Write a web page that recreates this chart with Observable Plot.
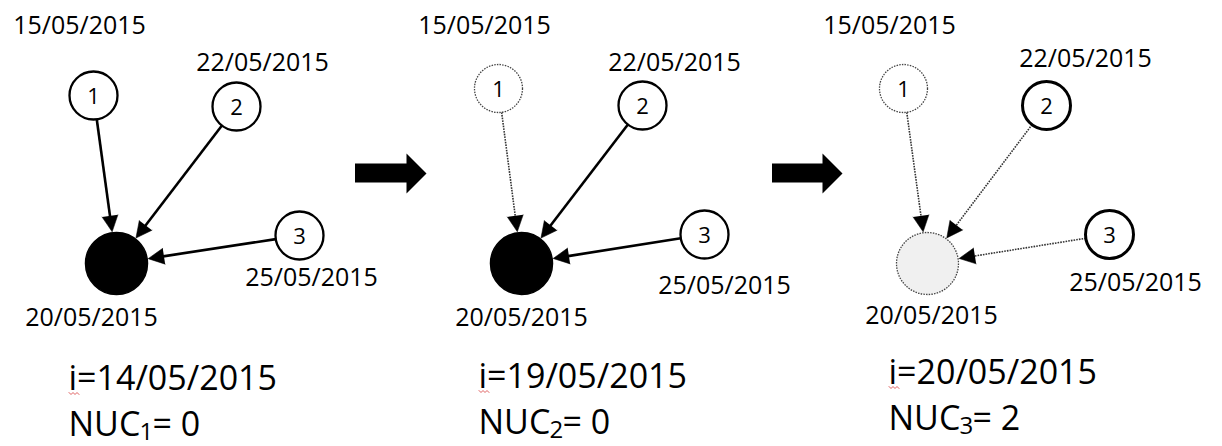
<!DOCTYPE html>
<html>
<head>
<meta charset="utf-8">
<script src="https://cdn.jsdelivr.net/npm/d3@7"></script>
<script src="https://cdn.jsdelivr.net/npm/@observablehq/plot@0.6"></script>
<style>
  html, body { margin: 0; padding: 0; background: #fff; }
  svg { display: block; }
</style>
</head>
<body>
<div id="chart"></div>
<script>
// ---- data ----
const panels = [0, 1, 2];
const sourceIds = ["1", "2", "3"];
const sourceDates = ["15/05/2015", "22/05/2015", "25/05/2015"];
const targetDate = "20/05/2015";
const iDates = ["14/05/2015", "19/05/2015", "20/05/2015"];
const nucIndex = ["1", "2", "3"];
const nucValues = [0, 0, 2];

// source node centres per panel
const srcX = [[93, 236, 299], [498, 642, 704], [903, 1046, 1109]];
const srcY = [[95, 106, 235], [88, 105, 234], [88, 105, 234]];
const srcState = [["on", "on", "on"], ["off", "on", "on"], ["off", "on", "on"]];
// target node per panel
const tgtX = [116, 521, 927];
const tgtY = [263, 263, 263];
const tgtState = ["on", "on", "off"];
// edge state per panel
const edgeState = [["on", "on", "on"], ["off", "on", "on"], ["off", "off", "off"]];

// label anchor points
const dateLabelX = [[79, 262, 311], [484, 674, 724], [889, 1085, 1135]];
const dateLabelY = [[33, 70, 285], [33, 70, 293], [33, 66, 290]];
const tgtLabelX = [91, 521, 931];
const tgtLabelY = [325, 325, 323];
const textX = [68, 478, 888];
const iY = [389, 387, 383];
const nucY = [435, 433, 429];

// transition arrows between panels
const transX1 = [355, 772];
const transX2 = [426, 842];
const transY = [173, 173];

// ---- build tables ----
const SRC_R = 24, TGT_R = 31, HEAD = 16;
const sources = [], targets = [], edges = [], dateLabels = [], tgtLabels = [], iLabels = [], nucLabels = [], squiggle = [];
panels.forEach(k => {
  sourceIds.forEach((id, j) => {
    const sx = srcX[k][j], sy = srcY[k][j], tx = tgtX[k], ty = tgtY[k];
    sources.push({id, x: sx, y: sy, r: SRC_R, state: srcState[k][j], sw: k === 2 ? 3 : 2.3});
    const dx = tx - sx, dy = ty - sy, L = Math.hypot(dx, dy), ux = dx / L, uy = dy / L;
    edges.push({
      x1: sx + ux * SRC_R, y1: sy + uy * SRC_R,
      x2: tx - ux * (TGT_R + HEAD - 3), y2: ty - uy * (TGT_R + HEAD - 3),
      tipX: tx - ux * (TGT_R + 1), tipY: ty - uy * (TGT_R + 1),
      angle: Math.atan2(dx, -dy) * 180 / Math.PI,
      state: edgeState[k][j]
    });
    dateLabels.push({x: dateLabelX[k][j], y: dateLabelY[k][j], text: sourceDates[j]});
  });
  targets.push({x: tgtX[k], y: tgtY[k], r: TGT_R, state: tgtState[k]});
  tgtLabels.push({x: tgtLabelX[k], y: tgtLabelY[k], text: targetDate});
  iLabels.push({x: textX[k], y: iY[k], text: "i=" + iDates[k]});
  nucLabels.push({x: textX[k], y: nucY[k], sub: nucIndex[k], value: "= " + nucValues[k]});
  for (let s = 0; s <= 5; s++) squiggle.push({panel: k, x: textX[k] + 0.5 + s * 2, y: iY[k] + 3 + (s % 2 ? 2 : 0)});
});
const transitions = transX1.map((x1, i) => ({x1, x2: transX2[i], y: transY[i]}));

const FONT = "Open Sans";

const chart = Plot.plot({
  width: 1222,
  height: 446,
  margin: 0,
  x: {domain: [0, 1222], range: [0, 1222], axis: null},
  y: {domain: [0, 446], range: [0, 446], axis: null},
  r: {type: "identity"},
  style: {background: "white"},
  marks: [
    // edges
    Plot.link(edges.filter(d => d.state === "on"), {x1: "x1", y1: "y1", x2: "x2", y2: "y2", stroke: "black", strokeWidth: 2.6}),
    Plot.link(edges.filter(d => d.state === "off"), {x1: "x1", y1: "y1", x2: "x2", y2: "y2", stroke: "#333", strokeWidth: 1.6, strokeDasharray: "1.6,1.1"}),
    Plot.spike(edges, {x: "tipX", y: "tipY", rotate: "angle", length: HEAD, r: 8, anchor: "end", fill: "black", fillOpacity: 1, stroke: "black", strokeWidth: 0.5}),
    // source nodes
    Plot.dot(sources.filter(d => d.state === "on"), {x: "x", y: "y", r: "r", fill: "white", stroke: "black", strokeWidth: "sw"}),
    Plot.dot(sources.filter(d => d.state === "off"), {x: "x", y: "y", r: "r", fill: "white", stroke: "#444", strokeWidth: 1.3, strokeDasharray: "1.5,1.2"}),
    // target nodes
    Plot.dot(targets.filter(d => d.state === "on"), {x: "x", y: "y", r: "r", fill: "black", stroke: "black"}),
    Plot.dot(targets.filter(d => d.state === "off"), {x: "x", y: "y", r: "r", fill: "#f0f0f0", stroke: "#444", strokeWidth: 1.3, strokeDasharray: "1.5,1.2"}),
    // node numbers
    Plot.text(sources, {x: "x", y: "y", text: "id", fontFamily: FONT, fontSize: 22, fill: "black", lineAnchor: "bottom", dy: 8}),
    // date labels
    Plot.text(dateLabels, {x: "x", y: "y", text: "text", fontFamily: FONT, fontSize: 25, fill: "black", lineAnchor: "bottom"}),
    Plot.text(tgtLabels, {x: "x", y: "y", text: "text", fontFamily: FONT, fontSize: 25, fill: "black", lineAnchor: "bottom"}),
    // bottom texts
    Plot.text(iLabels, {x: "x", y: "y", text: "text", fontFamily: FONT, fontSize: 34, fill: "black", textAnchor: "start", lineAnchor: "bottom"}),
    Plot.line(squiggle, {x: "x", y: "y", z: "panel", stroke: "#e06060", strokeWidth: 1}),
    Plot.text(nucLabels, {x: "x", y: "y", text: () => "NUC", fontFamily: FONT, fontSize: 34, fill: "black", textAnchor: "start", lineAnchor: "bottom"}),
    Plot.text(nucLabels, {x: "x", y: "y", text: "sub", fontFamily: FONT, fontSize: 24, fill: "black", textAnchor: "start", lineAnchor: "bottom", dx: 71, dy: 4}),
    Plot.text(nucLabels, {x: "x", y: "y", text: "value", fontFamily: FONT, fontSize: 34, fill: "black", textAnchor: "start", lineAnchor: "bottom", dx: 84}),
    // transition arrows
    Plot.rect(transitions, {x1: "x1", x2: d => d.x2 - 19, y1: d => d.y - 9.5, y2: d => d.y + 9.5, fill: "black"}),
    Plot.spike(transitions, {x: "x2", y: "y", rotate: 90, length: 20, r: 20, anchor: "end", fill: "black", fillOpacity: 1, stroke: "none"})
  ]
});
document.getElementById("chart").appendChild(chart);
</script>
</body>
</html>
